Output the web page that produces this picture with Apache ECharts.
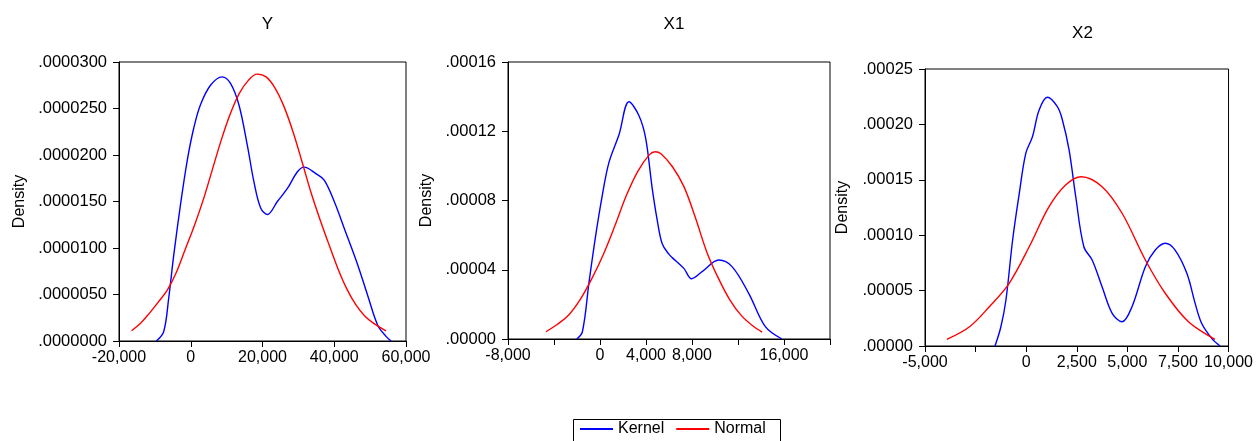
<!DOCTYPE html>
<html>
<head>
<meta charset="utf-8">
<script src="https://cdn.jsdelivr.net/npm/echarts@6/dist/echarts.min.js"></script>
<style>
html,body{margin:0;padding:0;background:#fff;}
#c{width:1256px;height:441px;}
</style>
</head>
<body>
<div id="c"></div>
<script>
// ---------- data ----------
const panelTitles = ['Y', 'X1', 'X2'];
const seriesNames = ['Kernel', 'Normal'];

// Panel Y  [x, density]
const yKernel = [[-9600,0],[-7550,1.0e-6],[-6150,4.6e-6],[-4750,9.2e-6],[-2880,14.6e-6],[-1030,19.3e-6],[840,22.9e-6],[2710,25.4e-6],[5510,27.5e-6],[8750,28.4e-6],[11080,27.7e-6],[13420,25.4e-6],[15750,21.1e-6],[17620,17.1e-6],[19490,14.3e-6],[21350,13.6e-6],[24150,15.0e-6],[26940,16.4e-6],[29740,18.2e-6],[31610,18.7e-6],[34870,18.0e-6],[37200,17.3e-6],[40000,15.0e-6],[42800,12.1e-6],[46520,8.2e-6],[49320,4.9e-6],[52110,1.7e-6],[54430,0.5e-6],[55830,0]];
const yNormal = [[-16500,1.1e-6],[-14000,1.9e-6],[-11500,3.0e-6],[-9000,4.2e-6],[-6500,5.5e-6],[-4000,7.4e-6],[-1500,9.9e-6],[1000,12.4e-6],[3500,15.2e-6],[6000,18.4e-6],[8500,21.6e-6],[11000,24.4e-6],[13500,26.6e-6],[16000,28.0e-6],[18500,28.7e-6],[21000,28.4e-6],[23500,27.2e-6],[26000,25.2e-6],[28500,22.5e-6],[31000,19.3e-6],[33500,16.0e-6],[36000,13.1e-6],[38500,10.4e-6],[41000,7.8e-6],[43500,5.6e-6],[46000,3.9e-6],[48500,2.7e-6],[51000,1.9e-6],[54400,1.1e-6]];

// Panel X1
const x1Kernel = [[-2020,0],[-1530,4.2e-6],[-950,33e-6],[-370,60e-6],[200,83e-6],[780,102e-6],[1650,118e-6],[2520,137e-6],[3390,129e-6],[3970,116e-6],[4540,87e-6],[4975,68.7e-6],[5410,55e-6],[5990,49e-6],[6280,47e-6],[7290,40.8e-6],[7960,34.8e-6],[8880,38.9e-6],[10330,45.6e-6],[11480,41.8e-6],[12930,26.4e-6],[14380,7.1e-6],[15820,0]];
const x1Normal = [[-4700,4.2e-6],[-3700,8.5e-6],[-2700,14e-6],[-1700,23e-6],[-700,35e-6],[300,49e-6],[1300,65.5e-6],[2300,83e-6],[3300,97e-6],[4300,106.5e-6],[4800,108.2e-6],[5300,107e-6],[6300,99.5e-6],[7300,88e-6],[8300,70e-6],[9300,50e-6],[10300,35e-6],[11300,22.5e-6],[12300,13.5e-6],[13300,7.5e-6],[14100,4.0e-6]];

// Panel X2
const x2Kernel = [[-1540,0],[-1250,17.4e-6],[-1000,41.5e-6],[-670,95.7e-6],[-340,137.8e-6],[-20,173.9e-6],[310,188.9e-6],[640,213e-6],[1050,224.5e-6],[1540,216e-6],[1790,204e-6],[2120,177e-6],[2450,134.7e-6],[2850,89.6e-6],[3260,77.6e-6],[3750,53.5e-6],[4250,29.5e-6],[4740,21.9e-6],[5230,35.5e-6],[5890,71.6e-6],[6380,86.6e-6],[6870,92.7e-6],[7360,86.6e-6],[7940,65.6e-6],[8350,38.5e-6],[8670,20.5e-6],[9170,6.9e-6],[9580,0]];
const x2Normal = [[-3920,6.0e-6],[-2800,17.4e-6],[-1820,35.5e-6],[-840,56.6e-6],[150,89.6e-6],[1130,125.7e-6],[1950,145.3e-6],[2720,152.8e-6],[3750,143.8e-6],[4740,119.8e-6],[5890,77.6e-6],[6870,47.6e-6],[8020,21.9e-6],[9330,6.0e-6]];

// Tick labels
const yTicksY  = ['.0000000','.0000050','.0000100','.0000150','.0000200','.0000250','.0000300'];
const yTicksX1 = ['.00000','.00004','.00008','.00012','.00016'];
const yTicksX2 = ['.00000','.00005','.00010','.00015','.00020','.00025'];
const xTicksY  = ['-20,000','0','20,000','40,000','60,000'];
const xTicksX1 = ['-8,000','','0','4,000','8,000','','16,000',''];
const xTicksX2 = ['-5,000','','0','2,500','5,000','7,500','10,000'];

// axis ranges
const xRanges = [[-20000,60000,20000],[-8000,20000,4000],[-5000,10000,2500]];
const yRanges = [[0,0.00003,0.000005],[0,0.00016,0.00004],[0,0.00025,0.00005]];

// ---------- chart ----------
const FONT = 'Liberation Sans, Arial, sans-serif';
const grids = [
  {left:119, top:62, width:287, height:279},
  {left:508, top:62, width:322, height:277},
  {left:925, top:69, width:305, height:277}
];
const yTickSets = [yTicksY, yTicksX1, yTicksX2];
const xTickSets = [xTicksY, xTicksX1, xTicksX2];
const kernels = [yKernel, x1Kernel, x2Kernel];
const normals = [yNormal, x1Normal, x2Normal];
const nameGaps = [91, 73, 74];

function lab(arr, min, iv){ return v => { const i = Math.round((v-min)/iv); return arr[i] !== undefined ? arr[i] : ''; }; }

const option = {
  animation:false,
  backgroundColor:'#fff',
  textStyle:{fontFamily:FONT},
  title: panelTitles.map((t,i)=>({
    text:t, left: grids[i].left + grids[i].width/2, top: i===2 ? 20 : 11, textAlign:'center',
    textStyle:{fontFamily:FONT, fontSize:17, fontWeight:'normal', color:'#000'}
  })),
  grid: grids.map(g=>Object.assign({show:true, borderColor:'#000', borderWidth:1, backgroundColor:'transparent'}, g)),
  graphic:[{type:'rect', left:571, top:417, shape:{width:207, height:40}, silent:true,
    style:{fill:'none', stroke:'#000', lineWidth:1}}],
  legend:{
    data: seriesNames, left:572, top:418, orient:'horizontal',
    borderWidth:0, padding:[3,9,3,8], itemGap:12,
    itemWidth:33, itemHeight:2, icon:'rect',
    textStyle:{fontFamily:FONT, fontSize:16, color:'#000'}
  },
  xAxis: xRanges.map((r,i)=>({
    type:'value', gridIndex:i, min:r[0], max:r[1], interval:r[2],
    splitLine:{show:false},
    axisLine:{show:true, onZero:false, lineStyle:{color:'#000', width:1}},
    axisTick:{show:true, length:6, lineStyle:{color:'#000'}},
    axisLabel:{show:true, margin:9, fontSize:16, color:'#000', fontFamily:FONT,
      showMinLabel:true, showMaxLabel:true, hideOverlap:false,
      formatter: lab(xTickSets[i], r[0], r[2])}
  })),
  yAxis: yRanges.map((r,i)=>({
    type:'value', gridIndex:i, min:r[0], max:r[1], interval:r[2],
    name:'Density', nameLocation:'middle', nameRotate:90, nameGap:nameGaps[i],
    nameTextStyle:{fontFamily:FONT, fontSize:16, color:'#000'},
    splitLine:{show:false},
    axisLine:{show:true, onZero:false, lineStyle:{color:'#000', width:1}},
    axisTick:{show:true, length:6, lineStyle:{color:'#000'}},
    axisLabel:{show:true, margin:12, fontSize:16.5, color:'#000', fontFamily:FONT,
      showMinLabel:true, showMaxLabel:true,
      formatter: lab(yTickSets[i], r[0], r[2])}
  })),
  series: []
};
for (let i=0;i<3;i++){
  option.series.push({name:'Kernel', type:'line', xAxisIndex:i, yAxisIndex:i, data:kernels[i],
    smooth:0.35, showSymbol:false, symbol:'none', lineStyle:{color:'#0000ff', width:1.4}, itemStyle:{color:'#0000ff'}});
  option.series.push({name:'Normal', type:'line', xAxisIndex:i, yAxisIndex:i, data:normals[i],
    smooth:0.35, showSymbol:false, symbol:'none', lineStyle:{color:'#ff0000', width:1.4}, itemStyle:{color:'#ff0000'}});
}
const chart = echarts.init(document.getElementById('c'), null, {renderer:'canvas'});
chart.setOption(option);
</script>
</body>
</html>
